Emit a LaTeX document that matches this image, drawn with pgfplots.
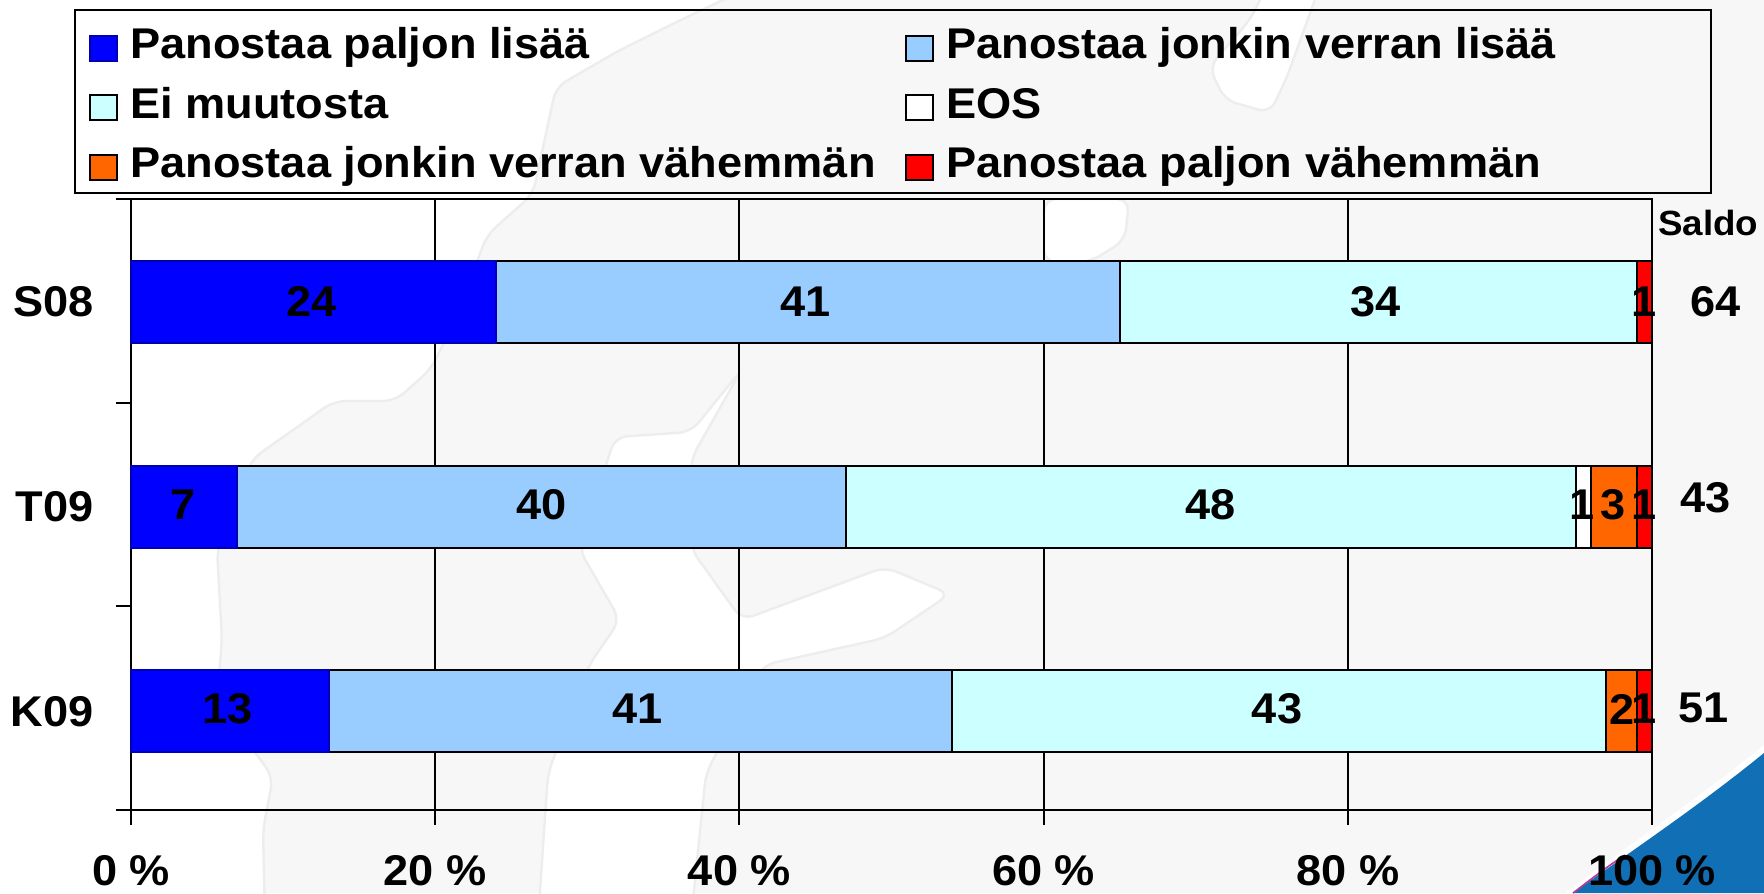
\documentclass[border=0pt]{standalone}
\usepackage{pgfplots}
\pgfplotsset{compat=1.18}
\usepackage{pgfplotstable}
\usepackage{fontspec}
\setmainfont[FakeStretch=1.05]{Liberation Sans}
\definecolor{c1}{HTML}{0000FF}
\definecolor{c2}{HTML}{99CCFF}
\definecolor{c3}{HTML}{CCFFFF}
\definecolor{c4}{HTML}{FFFFFF}
\definecolor{c5}{HTML}{FF6600}
\definecolor{c6}{HTML}{FF0000}
\definecolor{land}{HTML}{F7F7F7}
\definecolor{coast}{HTML}{EDEDED}
\definecolor{corner}{HTML}{1170B5}
\newcommand{\lab}{\bfseries\fontsize{21.5pt}{23pt}\selectfont}
\pgfplotstableread{
y a b c d e f
0.505 24 41 34 0 0 1
1.51 7 40 48 1 3 1
2.515 13 41 43 0 2 1
}\bars
\pgfplotstableread{
x y l
11.9 0.505 24
44.35 0.505 41
81.8 0.505 34
99.45 0.505 1
3.4 1.5 7
27 1.5 40
70.95 1.5 48
95.4 1.5 1
97.45 1.5 3
99.45 1.5 1
6.35 2.505 13
33.3 2.505 41
75.35 2.505 43
98 2.505 2
99.45 2.505 1
}\seglabels
\pgfplotstableread{
x y l
104.2 0.506 64
103.5 1.468 43
103.4 2.499 51
}\saldo
\begin{document}
\begin{tikzpicture}
\path[use as bounding box] (0,0) rectangle (882pt,-446.5pt);
\begin{scope}[x=0.5pt,y=-0.5pt]
\fill[land] (0,0) rectangle (1764,893);
\begin{scope}[fill=white,draw=coast,line width=1.2pt,rounded corners=6pt]
\filldraw (-20,-20) -- (765,-20) -- (687,17) -- (620,50) -- (556,87) -- (533,194) -- (487,235) -- (455,320) -- (431,369) -- (395,401) -- (334,401) -- (252,459) -- (217,549) -- (222,640) -- (217,700) -- (273,777) -- (263,830) -- (265,920) -- (-20,920) -- cycle;
\filldraw (742,369) -- (691,432) -- (615,437) -- (579,549) -- (620,620) -- (589,665) -- (548,773) -- (538,920) -- (691,920) -- (706,773) -- (763,665) -- (885,638) -- (950,594) -- (885,567) -- (742,620) -- (691,549) -- (691,459) -- cycle;
\filldraw (1322,-20) -- (1287,77) -- (1270,113) -- (1225,100) -- (1209,67) -- (1250,20) -- (1270,-20) -- cycle;
\filldraw (1044,199) -- (1129,199) -- (1125,240) -- (1090,262) -- (1044,262) -- cycle;
\end{scope}
\fill[white] (1764,745) .. controls (1700,797) and (1640,837) .. (1565,893) -- (1764,893) -- cycle;
\fill[corner] (1764,753) .. controls (1700,805) and (1640,845) .. (1573,893) -- (1764,893) -- cycle;
\draw[magenta!70!corner,line width=0.8pt] (1573,893) .. controls (1590,880) and (1605,868) .. (1625,855);
\draw[black,line width=1pt] (75,10) rectangle (1711,193.5);
\end{scope}
\begin{axis}[
  at={(65.5pt,-405pt)}, anchor=south west,
  scale only axis, width=760.5pt, height=305.5pt,
  xbar stacked, bar width=41pt, bar shift=0pt,
  xmin=0, xmax=100, ymin=0, ymax=3, y dir=reverse,
  enlargelimits=false, clip=false,
  xtick={0,20,40,60,80,100},
  xticklabels={0 \%,20 \%,40 \%,60 \%,80 \%,100 \%},
  ytick={0.505,1.51,2.515}, yticklabels={S08,T09,K09},
  minor ytick={0,1,2,3},
  xtick pos=bottom, ytick pos=left,
  xmajorgrids,
  major grid style={black,line width=1pt},
  tick align=outside,
  major tick length=7.5pt, minor tick length=7.5pt,
  tick style={black,line width=1pt},
  major y tick style={draw=none},
  axis line style={black,line width=1pt},
  x axis line style={-}, y axis line style={-},
  tick label style={font=\lab,inner sep=0pt},
  yticklabel style={xshift=-11pt},
  xticklabel style={yshift=-15pt},
  legend columns=2,
  legend cell align=left,
  legend style={at={(axis description cs:-0.0368,1.2926)},anchor=north west,
    draw=none,fill=none,font=\lab,
    inner xsep=7pt,inner ysep=4pt,
    /tikz/every even column/.append style={column sep=14.8pt},
    /tikz/every odd column/.append style={column sep=6pt},
    nodes={inner sep=0pt,text height=15pt,text depth=4.5pt},
    row sep=10.25pt},
  area legend,
  legend image code/.code={\draw[#1,line width=1pt] (0cm,-6.25pt) rectangle (13.5pt,6.25pt);},
]
\addplot[fill=c1,draw=c1!70!black,line width=1pt] table[x=a,y=y] {\bars};
\addplot[fill=c2,draw=black,line width=1pt] table[x=b,y=y] {\bars};
\addplot[fill=c3,draw=black,line width=1pt] table[x=c,y=y] {\bars};
\addplot[fill=c4,draw=black,line width=1pt] table[x=d,y=y] {\bars};
\addplot[fill=c5,draw=black,line width=1pt] table[x=e,y=y] {\bars};
\addplot[fill=c6,draw=black,line width=1pt] table[x=f,y=y] {\bars};
\legend{Panostaa paljon lisää,Panostaa jonkin verran lisää,Ei muutosta,EOS,Panostaa jonkin verran vähemmän,Panostaa paljon vähemmän}
\end{axis}
\begin{axis}[
  at={(65.5pt,-405pt)}, anchor=south west,
  scale only axis, width=760.5pt, height=305.5pt,
  xmin=0, xmax=100, ymin=0, ymax=3, y dir=reverse,
  axis lines=none, clip=false,
  nodes near coords, point meta=explicit symbolic,
  nodes near coords style={anchor=center,inner sep=0pt,font=\lab},
]
\addplot[only marks,mark=none] table[x=x,y=y,meta=l] {\seglabels};
\addplot[only marks,mark=none] table[x=x,y=y,meta=l] {\saldo};
\node[anchor=center,inner sep=0pt,font=\bfseries\fontsize{17.5pt}{19pt}\selectfont] at (axis cs:103.7,0.118) {Saldo};
\end{axis}
\end{tikzpicture}
\end{document}
